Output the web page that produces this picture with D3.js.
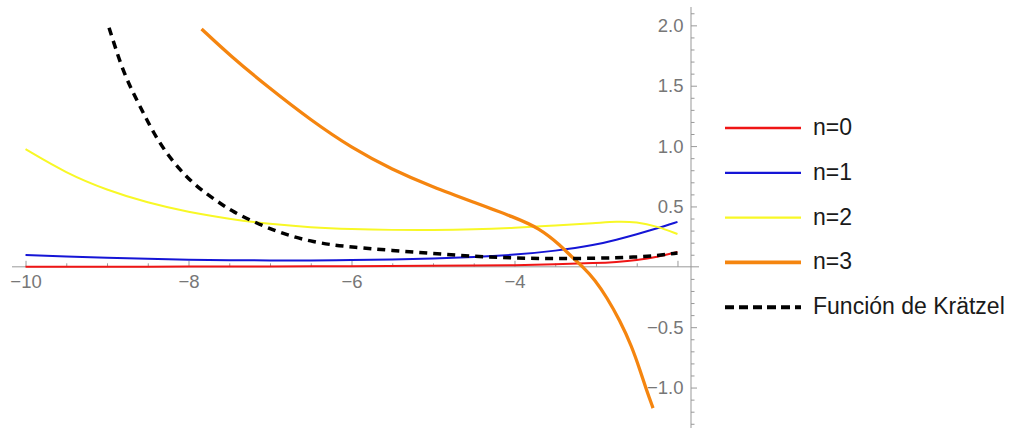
<!DOCTYPE HTML>
<html>
<head>
  <style>
  body {
    margin: 0;
    background: #fff;
  }
  .axis text {
    font-family: "Liberation Sans", Arial, sans-serif;
    font-size: 18.5px;
    fill: #777;
  }
  .axis line, .axis path {
    stroke: #999;
    stroke-width: 1;
  }
  .legend text {
    font-family: "Liberation Sans", Arial, sans-serif;
    font-size: 23px;
    fill: #1a1a1a;
  }
  </style>
  <script src="https://d3js.org/d3.v7.min.js"></script>
</head>
<body>
  <script type="text/javascript">
  'use strict';

  // values
  var n0_x = [-10, -9, -8, -7, -6, -5, -4.5, -4, -3.5, -3, -2.75, -2.5, -2.25, -2];
  var n0_y = [0.000, 0.001, 0.002, 0.003, 0.005, 0.008, 0.010, 0.013, 0.020, 0.031, 0.040, 0.054, 0.080, 0.124];

  var n1_x = [-10, -9.5, -9, -8.5, -8, -7.5, -7, -6.5, -6, -5.5, -5, -4.5, -4, -3.5, -3, -2.75, -2.5, -2.25, -2];
  var n1_y = [0.097, 0.085, 0.075, 0.066, 0.059, 0.055, 0.053, 0.053, 0.055, 0.060, 0.068, 0.080, 0.099, 0.131, 0.182, 0.224, 0.270, 0.318, 0.372];

  var n2_x = [-10, -9.5, -9, -8.5, -8, -7.5, -7, -6.5, -6, -5.5, -5, -4.5, -4, -3.5, -3, -2.75, -2.5, -2.25, -2];
  var n2_y = [0.974, 0.775, 0.635, 0.530, 0.453, 0.397, 0.353, 0.326, 0.312, 0.305, 0.304, 0.309, 0.322, 0.343, 0.362, 0.376, 0.372, 0.335, 0.272];

  var n3_x = [-7.84, -7.5, -7, -6.5, -6, -5.5, -5, -4.5, -4, -3.69, -3.44, -3.28, -3.16, -3.01, -2.87, -2.71, -2.56, -2.46, -2.38, -2.3];
  var n3_y = [1.97, 1.755, 1.475, 1.215, 0.985, 0.805, 0.66, 0.535, 0.41, 0.318, 0.18, 0.07, 0.0, -0.11, -0.25, -0.44, -0.66, -0.855, -1.02, -1.17];

  var k_x = [-8.975, -8.9, -8.8, -8.68, -8.55, -8.43, -8.27, -8.1, -7.94, -7.78, -7.61, -7.45, -7.2, -6.96, -6.71, -6.47, -6.22, -6, -5.5, -5, -4.5, -4, -3.5, -3, -2.5, -2.25, -2];
  var k_y = [1.98, 1.82, 1.62, 1.44, 1.27, 1.11, 0.94, 0.80, 0.69, 0.605, 0.525, 0.455, 0.373, 0.304, 0.248, 0.207, 0.180, 0.165, 0.135, 0.110, 0.087, 0.072, 0.068, 0.070, 0.080, 0.092, 0.115];

  var labels = ['n=0', 'n=1', 'n=2', 'n=3', 'Función de Krätzel'];

  var x_major = [-10, -8, -6, -4, -2];
  var y_major = [-1.0, -0.5, 0.5, 1.0, 1.5, 2.0];

  var series = [
    {x: n0_x, y: n0_y, color: '#ef1515', width: 2, dash: null},
    {x: n1_x, y: n1_y, color: '#1515d6', width: 2, dash: null},
    {x: n2_x, y: n2_y, color: '#f8f826', width: 2, dash: null},
    {x: n3_x, y: n3_y, color: '#f5850f', width: 3.3, dash: null},
    {x: k_x, y: k_y, color: '#000', width: 3.5, dash: '8,6'}
  ];

  var width = 1023, height = 428;

  var svg = d3.select('body')
              .append('svg')
              .attr('width', width)
              .attr('height', height);

  var x_scale = d3.scaleLinear()
                  .domain([-10.166, -1.834])
                  .range([12, 691]);
  var y_scale = d3.scaleLinear()
                  .domain([-1.335, 2.152])
                  .range([428, 7]);

  var x_minor = d3.range(-10, -1.9, 0.5).filter(function(d) { return x_major.indexOf(d) < 0; });
  var y_minor = d3.range(-13, 22, 1).map(function(d) { return d / 10; })
                  .filter(function(d) { return Math.abs(d * 2 - Math.round(d * 2)) > 1e-6; });

  // x axis
  var gx = svg.append('g')
              .attr('class', 'x axis')
              .attr('transform', 'translate(0,' + y_scale(0) + ')');
  gx.append('line')
    .attr('x1', 12).attr('x2', 699)
    .attr('y1', 0).attr('y2', 0);
  gx.append('g')
    .call(d3.axisBottom(x_scale).tickValues(x_major).tickSize(-6).tickPadding(8.5)
      .tickFormat(function(d) { return d === -2 ? '' : d3.format('d')(d); }))
    .select('.domain').remove();
  gx.append('g')
    .call(d3.axisBottom(x_scale).tickValues(x_minor).tickSize(-3.5).tickFormat(''))
    .select('.domain').remove();

  // y axis
  var gy = svg.append('g')
              .attr('class', 'y axis')
              .attr('transform', 'translate(' + x_scale(-1.834) + ',0)');
  gy.append('line')
    .attr('x1', 0).attr('x2', 0)
    .attr('y1', 7).attr('y2', 428);
  gy.append('g')
    .call(d3.axisLeft(y_scale).tickValues(y_major).tickSize(-6).tickPadding(7.5)
      .tickFormat(d3.format('.1f')))
    .select('.domain').remove();
  gy.append('g')
    .call(d3.axisLeft(y_scale).tickValues(y_minor).tickSize(-3.5).tickFormat(''))
    .select('.domain').remove();

  // curves
  var line = d3.line()
               .x(function(d) { return x_scale(d[0]); })
               .y(function(d) { return y_scale(d[1]); })
               .curve(d3.curveBasis);

  series.forEach(function(s) {
    var pts = s.x.map(function(v, i) { return [v, s.y[i]]; });
    svg.append('path')
       .attr('d', line(pts))
       .attr('fill', 'none')
       .attr('stroke', s.color)
       .attr('stroke-width', s.width)
       .attr('stroke-dasharray', s.dash);
  });

  // legend
  var legend = svg.append('g').attr('class', 'legend');
  series.forEach(function(s, i) {
    var ly = 128 + i * 44.8;
    legend.append('line')
          .attr('x1', 725).attr('x2', 801)
          .attr('y1', ly).attr('y2', ly)
          .attr('stroke', s.color)
          .attr('stroke-width', s.dash ? 4 : s.width + 0.3)
          .attr('stroke-dasharray', s.dash ? '9,5' : null);
    legend.append('text')
          .attr('x', 813)
          .attr('y', ly)
          .attr('dy', '0.3em')
          .text(labels[i]);
  });
  </script>
</body>
</html>
